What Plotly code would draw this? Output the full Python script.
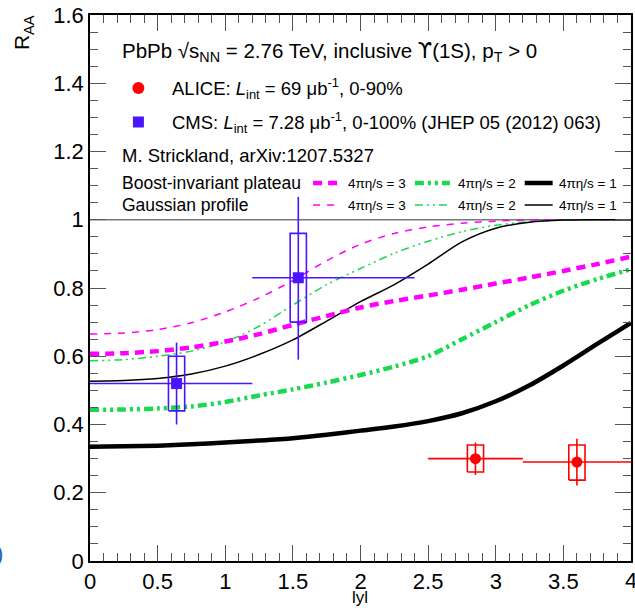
import plotly.graph_objects as go

# ---------------- data ----------------
y_abs = [0, 0.25, 0.5, 0.75, 1.0, 1.25, 1.5, 1.75, 2.0, 2.25, 2.5, 2.75, 3.0, 3.25, 3.5, 3.75, 4.0]

# Boost-invariant plateau (thick)
bi_eta3 = [0.607, 0.609, 0.615, 0.626, 0.643, 0.665, 0.692, 0.718, 0.743, 0.762, 0.778, 0.795, 0.813, 0.831, 0.850, 0.870, 0.892]
bi_eta2 = [0.443, 0.444, 0.447, 0.453, 0.466, 0.485, 0.503, 0.523, 0.545, 0.570, 0.600, 0.650, 0.700, 0.750, 0.792, 0.826, 0.855]
bi_eta1 = [0.335, 0.336, 0.338, 0.342, 0.347, 0.353, 0.360, 0.370, 0.382, 0.394, 0.410, 0.433, 0.468, 0.515, 0.573, 0.636, 0.698]

# Gaussian profile (thin)
ga_eta3 = [0.665, 0.668, 0.678, 0.698, 0.730, 0.771, 0.822, 0.880, 0.928, 0.960, 0.979, 0.990, 0.996, 0.999, 1.0, 1.0, 1.0]
ga_eta2 = [0.587, 0.590, 0.600, 0.615, 0.642, 0.688, 0.750, 0.810, 0.857, 0.902, 0.937, 0.965, 0.984, 0.994, 0.999, 1.0, 1.0]
ga_eta1 = [0.527, 0.529, 0.535, 0.548, 0.571, 0.605, 0.648, 0.703, 0.760, 0.810, 0.870, 0.935, 0.975, 0.993, 0.999, 1.0, 1.0]

# CMS
cms_x = [0.64, 1.54]
cms_y = [0.52, 0.83]
cms_xlo = [0.0, 1.2]
cms_xhi = [1.2, 2.4]
cms_stat_hi = [0.640, 1.067]
cms_stat_lo = [0.400, 0.590]
cms_syst_hi = [0.600, 0.960]
cms_syst_lo = [0.440, 0.700]

# ALICE
alice_x = [2.85, 3.60]
alice_y = [0.300, 0.290]
alice_xlo = [2.5, 3.2]
alice_xhi = [3.2, 4.0]
alice_stat_hi = [0.347, 0.358]
alice_stat_lo = [0.252, 0.221]
alice_syst_hi = [0.340, 0.340]
alice_syst_lo = [0.261, 0.237]

x_ticks = [0, 0.5, 1, 1.5, 2, 2.5, 3, 3.5, 4]
y_ticks = [0, 0.2, 0.4, 0.6, 0.8, 1.0, 1.2, 1.4, 1.6]

# ---------------- styles ----------------
MAG = "#ff00ff"
GRN = "#19d94f"
BLK = "#000000"
BLUE = "#4a14ff"
RED = "#ff0000"
FONT = "Liberation Sans, Arial, Helvetica, sans-serif"

DASH_THICK_MAG = "9px,6px"
DASH_THIN_MAG = "7px,7px"
DASH_THICK_GRN = "9px,4px,3px,4px,3px,4px"
DASH_THIN_GRN = "8px,4px,2px,4px,2px,4px"

W, H = 635, 608
L, R, T, B = 89.5, 3.5, 15, 47
PW, PH = W - L - R, H - T - B


def px(xpix):
    return (xpix - L) / PW


def py(ypix):
    return (H - B - ypix) / PH


fig = go.Figure()

curves = [
    (ga_eta3, MAG, 1.5, DASH_THIN_MAG),
    (ga_eta2, GRN, 1.5, DASH_THIN_GRN),
    (ga_eta1, BLK, 1.5, "solid"),
    (bi_eta3, MAG, 4.5, DASH_THICK_MAG),
    (bi_eta2, GRN, 4.5, DASH_THICK_GRN),
    (bi_eta1, BLK, 4.5, "solid"),
]
for vals, col, w, dash in curves:
    fig.add_trace(go.Scatter(
        x=y_abs, y=vals, mode="lines",
        line=dict(color=col, width=w, dash=dash, shape="spline", smoothing=0.8),
        showlegend=False, hoverinfo="skip"))


def add_points(xs, ys, xlo, xhi, shi, slo, syhi, sylo, color, symbol, half_w):
    # systematic boxes
    for xc, hi, lo in zip(xs, syhi, sylo):
        fig.add_trace(go.Scatter(
            x=[xc - half_w, xc + half_w, xc + half_w, xc - half_w, xc - half_w],
            y=[lo, lo, hi, hi, lo], mode="lines",
            line=dict(color=color, width=1.6), showlegend=False, hoverinfo="skip"))
    fig.add_trace(go.Scatter(
        x=xs, y=ys, mode="markers",
        marker=dict(color=color, size=11, symbol=symbol),
        error_x=dict(type="data", symmetric=False,
                     array=[h - x for h, x in zip(xhi, xs)],
                     arrayminus=[x - l for l, x in zip(xlo, xs)],
                     color=color, thickness=1.6, width=0),
        error_y=dict(type="data", symmetric=False,
                     array=[h - y for h, y in zip(shi, ys)],
                     arrayminus=[y - l for l, y in zip(slo, ys)],
                     color=color, thickness=1.6, width=0),
        showlegend=False, hoverinfo="skip"))


add_points(cms_x, cms_y, cms_xlo, cms_xhi, cms_stat_hi, cms_stat_lo,
           cms_syst_hi, cms_syst_lo, BLUE, "square", 0.06)
add_points(alice_x, alice_y, alice_xlo, alice_xhi, alice_stat_hi, alice_stat_lo,
           alice_syst_hi, alice_syst_lo, RED, "circle", 0.06)

shapes = []
# line at R_AA = 1
shapes.append(dict(type="line", xref="paper", yref="y", x0=0, x1=1, y0=1, y1=1,
                   line=dict(color="#777777", width=1.5), layer="below"))

# legend markers
shapes.append(dict(type="circle", xref="paper", yref="paper",
                   x0=px(132), x1=px(144), y0=py(94), y1=py(82),
                   fillcolor=RED, line=dict(color=RED, width=0)))
shapes.append(dict(type="rect", xref="paper", yref="paper",
                   x0=px(132.5), x1=px(143.5), y0=py(127.5), y1=py(116.5),
                   fillcolor=BLUE, line=dict(color=BLUE, width=0)))

# legend line samples
legend_rows = [(183, [(MAG, 4.5, DASH_THICK_MAG), (GRN, 4.5, DASH_THICK_GRN), (BLK, 4.5, "solid")]),
               (205, [(MAG, 1.5, DASH_THIN_MAG), (GRN, 1.5, DASH_THIN_GRN), (BLK, 1.5, "solid")])]
sample_x = [(313, 339), (415, 450), (525, 553)]
for ypix, styles in legend_rows:
    for (x0, x1), (col, w, dash) in zip(sample_x, styles):
        shapes.append(dict(type="line", xref="paper", yref="paper",
                           x0=px(x0), x1=px(x1), y0=py(ypix), y1=py(ypix),
                           line=dict(color=col, width=w, dash=dash)))

annotations = []


def txt(s, xpix, ypix, size, **kw):
    d = dict(text=s, xref="paper", yref="paper", x=px(xpix), y=py(ypix),
             xanchor="left", yanchor="middle", showarrow=False,
             font=dict(family=FONT, size=size, color="black"))
    d.update(kw)
    annotations.append(d)


txt("PbPb √s<sub>NN</sub> = 2.76 TeV, inclusive "
    "<span style='font-family:DejaVu Sans'>ϒ</span>(1S), p<sub>T</sub> > 0", 120, 52, 20.5)
txt("ALICE: <i>L</i><sub>int</sub> = 69 μb<sup>-1</sup>, 0-90%", 170, 89, 18.5)
txt("CMS: <i>L</i><sub>int</sub> = 7.28 μb<sup>-1</sup>, 0-100% (JHEP 05 (2012) 063)", 170, 123, 18.5)
txt("M. Strickland, arXiv:1207.5327", 120, 155, 18.5)
txt("Boost-invariant plateau", 120, 183, 17.5)
txt("Gaussian profile", 120, 205, 17.5)
for ypix in (183, 205):
    for xpix, lab in zip((346, 456, 557), ("3", "2", "1")):
        txt("4πη/s = " + lab, xpix, ypix, 13.5)

# axis titles
annotations.append(dict(text="R<sub>AA</sub>", xref="paper", yref="paper",
                        x=px(22), y=py(13), xanchor="center", yanchor="top",
                        textangle=-90, showarrow=False,
                        font=dict(family=FONT, size=21, color="black")))
annotations.append(dict(text="lyl", xref="paper", yref="paper",
                        x=px(360), y=py(597), xanchor="center", yanchor="middle",
                        showarrow=False, font=dict(family=FONT, size=17, color="black")))
# last x tick label, cut at the right edge as in the reference
annotations.append(dict(text="4", xref="x", yref="paper",
                        x=x_ticks[-1], y=py(580), xanchor="center", yanchor="middle",
                        showarrow=False, font=dict(family=FONT, size=22, color="black")))
# cropped fragment at left edge
annotations.append(dict(text=")", xref="paper", yref="paper",
                        x=px(4), y=py(553), xanchor="right", yanchor="middle",
                        showarrow=False, font=dict(family=FONT, size=22, color="#1f5fc0")))

axis_common = dict(
    showgrid=False, zeroline=False, showline=True, linecolor="black", linewidth=1.5,
    mirror="ticks", ticks="inside", ticklen=16, tickcolor="#555555", tickwidth=1.2,
    tickfont=dict(family=FONT, size=22, color="black"),
)

fig.update_layout(
    width=W, height=H,
    margin=dict(l=L, r=R, t=T, b=B, pad=0),
    paper_bgcolor="white", plot_bgcolor="white",
    xaxis=dict(range=[0, 4], tickvals=x_ticks,
               minor=dict(ticks="inside", ticklen=8, dtick=0.1, tickcolor="#555555", tickwidth=1.2),
               **axis_common),
    yaxis=dict(range=[0, 1.6], tickvals=y_ticks,
               minor=dict(ticks="inside", ticklen=8, dtick=0.05, tickcolor="#555555", tickwidth=1.2),
               **axis_common),
    shapes=shapes, annotations=annotations,
)

fig.write_html("out.html")
